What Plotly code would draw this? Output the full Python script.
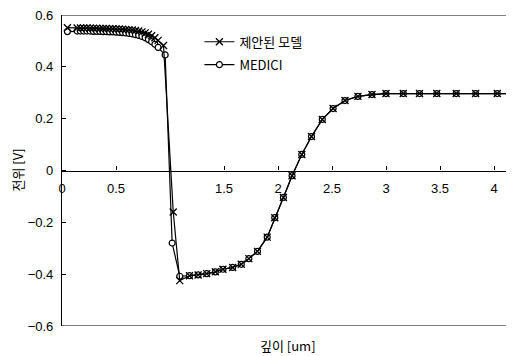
import plotly.graph_objects as go

# ---- data ----
x_prop = [0.05, 0.14, 0.17, 0.20, 0.23, 0.26, 0.29, 0.32, 0.35, 0.38, 0.41, 0.44, 0.47,
          0.50, 0.53, 0.56, 0.59, 0.62, 0.65, 0.68, 0.71, 0.74, 0.77, 0.80, 0.83, 0.86,
          0.89, 0.94, 1.03, 1.09, 1.18, 1.26, 1.34, 1.42, 1.49, 1.58, 1.66, 1.73, 1.81,
          1.90, 1.97, 2.05, 2.13, 2.22, 2.31, 2.41, 2.51, 2.62, 2.74, 2.87, 3.00, 3.16,
          3.31, 3.47, 3.65, 3.83, 4.03, 4.22]
y_prop = [0.551, 0.550, 0.550, 0.550, 0.550, 0.549, 0.549, 0.549, 0.548, 0.548, 0.548,
          0.547, 0.547, 0.546, 0.546, 0.545, 0.544, 0.543, 0.542, 0.540, 0.538, 0.535,
          0.531, 0.526, 0.520, 0.512, 0.502, 0.482, -0.16, -0.425, -0.406, -0.403,
          -0.398, -0.391, -0.381, -0.374, -0.362, -0.340, -0.312, -0.257, -0.182,
          -0.104, -0.020, 0.062, 0.131, 0.197, 0.239, 0.270, 0.286, 0.293, 0.297,
          0.297, 0.297, 0.297, 0.297, 0.297, 0.297, 0.297]

x_medici = [0.05, 0.14, 0.17, 0.20, 0.23, 0.26, 0.29, 0.32, 0.35, 0.38, 0.41, 0.44, 0.47,
            0.50, 0.53, 0.56, 0.59, 0.62, 0.65, 0.68, 0.71, 0.74, 0.77, 0.80, 0.83, 0.86,
            0.89, 0.955, 1.02, 1.09, 1.18, 1.26, 1.34, 1.42, 1.49, 1.58, 1.66, 1.73, 1.81,
            1.90, 1.97, 2.05, 2.13, 2.22, 2.31, 2.41, 2.51, 2.62, 2.74, 2.87, 3.00, 3.16,
            3.31, 3.47, 3.65, 3.83, 4.03, 4.22]
y_medici = [0.536, 0.538, 0.538, 0.538, 0.538, 0.538, 0.537, 0.537, 0.537, 0.536, 0.536,
            0.535, 0.535, 0.534, 0.533, 0.532, 0.531, 0.529, 0.527, 0.524, 0.521, 0.517,
            0.512, 0.505, 0.497, 0.487, 0.475, 0.446, -0.28, -0.408, -0.406, -0.403,
            -0.398, -0.391, -0.381, -0.374, -0.362, -0.340, -0.312, -0.257, -0.182,
            -0.104, -0.020, 0.062, 0.131, 0.197, 0.239, 0.270, 0.286, 0.293, 0.297,
            0.297, 0.297, 0.297, 0.297, 0.297, 0.297, 0.297]

x_ticks = [0, 0.5, 1, 1.5, 2, 2.5, 3, 3.5, 4]
x_ticktext = ["0", "0.5", "", "1.5", "2", "2.5", "3", "3.5", "4"]
y_ticks = [-0.6, -0.4, -0.2, 0, 0.2, 0.4, 0.6]
y_ticktext = ["−0.6", "−0.4", "−0.2", "0", "0.2", "0.4", "0.6"]

FONT = "Liberation Sans, Arial, Noto Sans CJK KR, sans-serif"
KFONT = "Noto Sans CJK KR, Liberation Sans, sans-serif"

fig = go.Figure()
fig.add_trace(go.Scatter(
    x=x_medici, y=y_medici, name="MEDICI", mode="lines+markers", legendgroup="b",
    line=dict(color="black", width=1.2),
    marker=dict(symbol="circle", size=6, color="white", line=dict(color="black", width=1.2)),
    legendrank=2,
))
fig.add_trace(go.Scatter(
    x=x_prop, y=y_prop, name="제안된 모델", mode="lines+markers", legendgroup="a",
    line=dict(color="black", width=1.2),
    marker=dict(symbol="x-thin-open", size=7, color="black", line=dict(color="black", width=1.3)),
    legendrank=1,
))

# frame lines (top and bottom)
for yv in (-0.6, 0.6):
    fig.add_shape(type="line", xref="paper", yref="y", x0=0, x1=1, y0=yv, y1=yv,
                  line=dict(color="black", width=1.2))

# the page body has an 8px default margin, so the figure is sized to fit the window
fig.update_layout(
    width=506, height=348,
    margin=dict(l=54, r=0, t=7, b=30),
    plot_bgcolor="white", paper_bgcolor="white",
    font=dict(family=FONT, size=13, color="black"),
    showlegend=True,
    legend=dict(x=0.304, y=0.962, xanchor="left", yanchor="top",
                bgcolor="rgba(0,0,0,0)", font=dict(size=13, family=KFONT),
                tracegroupgap=3, itemwidth=30),
    xaxis=dict(range=[0, 4.185], tickvals=x_ticks, ticktext=x_ticktext,
               anchor="free", position=0.5, showline=True, linecolor="black", linewidth=1.2,
               ticks="inside", ticklen=4, tickcolor="black", showgrid=False, zeroline=False,
               ticklabelstandoff=6, tickfont=dict(size=13), ticklabeloverflow="allow"),
    yaxis=dict(range=[-0.6, 0.6], tickvals=y_ticks, ticktext=y_ticktext,
               showline=True, linecolor="black", linewidth=1.2, ticks="inside", ticklen=4,
               tickcolor="black", showgrid=False, zeroline=False, ticklabelstandoff=5,
               tickfont=dict(size=13), ticklabeloverflow="allow"),
    annotations=[
        dict(text="깊이 [um]", xref="paper", yref="paper", x=0.5, y=0, yshift=-19,
             showarrow=False, font=dict(size=13, family=KFONT),
             xanchor="center", yanchor="middle"),
        dict(text="전위 [V]", xref="paper", yref="paper", x=0, y=0.5, xshift=-45,
             textangle=-90, showarrow=False, font=dict(size=13, family=KFONT),
             xanchor="center", yanchor="middle"),
    ],
)

fig.write_html("out.html")
